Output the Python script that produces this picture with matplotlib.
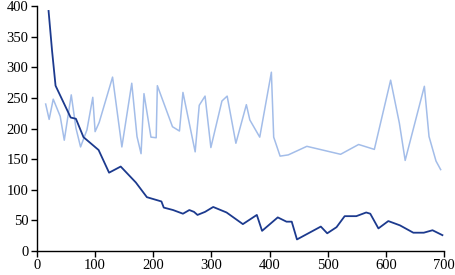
import matplotlib
matplotlib.use("Agg")
import matplotlib.pyplot as plt

light_x = [15, 21, 28, 40, 47, 59, 67, 75, 86, 96, 100, 107, 130, 146, 163, 172, 179, 184,
           196, 205, 207, 233, 245, 251, 272, 279, 289, 299, 318, 327, 342, 360, 366, 383,
           403, 407, 418, 432, 464, 522, 553, 580, 608, 623, 633, 666, 674, 686, 694]
light_y = [240, 215, 248, 220, 181, 255, 201, 170, 198, 251, 195, 210, 284, 170, 274, 187, 159, 257,
           186, 185, 270, 203, 196, 259, 162, 238, 253, 169, 245, 253, 176, 239, 214, 186,
           292, 186, 155, 157, 171, 158, 174, 166, 279, 209, 148, 269, 187, 147, 133]

dark_x = [20, 26, 32, 58, 67, 80, 106, 124, 144, 170, 189, 214, 218, 234, 251, 262, 270, 276,
          289, 303, 326, 354, 378, 387, 414, 429, 438, 447, 488, 499, 515, 529, 549, 566, 573,
          587, 604, 624, 647, 665, 680, 697]
dark_y = [392, 327, 270, 218, 216, 186, 165, 128, 138, 112, 88, 81, 71, 67, 61, 67, 64, 59,
          64, 72, 63, 44, 59, 33, 55, 48, 48, 19, 40, 29, 39, 57, 57, 63, 61,
          37, 49, 42, 30, 30, 34, 26]

x_ticks = [0, 100, 200, 300, 400, 500, 600, 700]
y_ticks = [0, 50, 100, 150, 200, 250, 300, 350, 400]

plt.rcParams['font.family'] = ['Liberation Serif', 'DejaVu Serif']
fig = plt.figure(figsize=(4.56, 2.75), dpi=100)
ax = fig.add_axes([0.081, 0.087, 0.893, 0.891])
ax.plot(light_x, light_y, color='#a3bde9', lw=1.1)
ax.plot(dark_x, dark_y, color='#1c3a8e', lw=1.3)
ax.set_xlim(0, 700)
ax.set_ylim(0, 400)
ax.set_xticks(x_ticks)
ax.set_yticks(y_ticks)
for s in ['top', 'right']:
    ax.spines[s].set_visible(False)
for s in ['left', 'bottom']:
    ax.spines[s].set_linewidth(1.0)
ax.tick_params(direction='out', length=4, width=1.0, labelsize=10.5, pad=2)
fig.savefig('out.png', dpi=100)
